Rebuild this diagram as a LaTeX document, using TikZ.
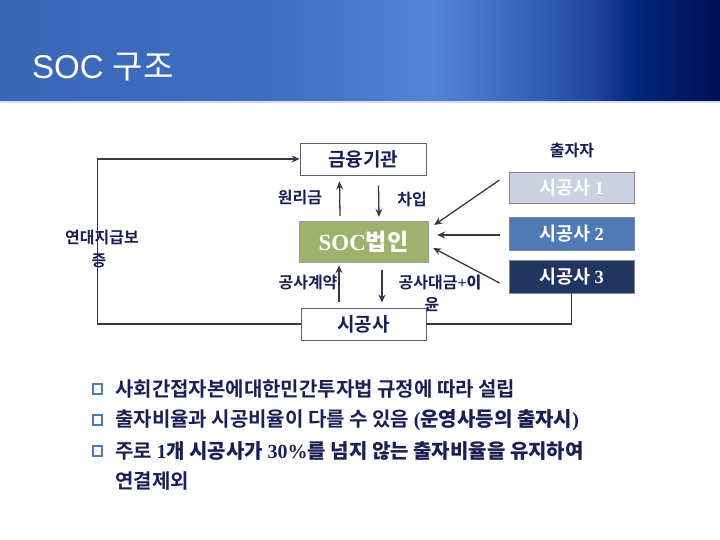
\documentclass[tikz,border=0pt]{standalone}
\usepackage{fontspec}
\setmainfont{Liberation Serif}
\newfontfamily\kr{Noto Sans CJK KR}
\newfontfamily\krb{Noto Sans CJK KR Bold}
\newfontfamily\lsans{Liberation Sans}
\usetikzlibrary{arrows.meta}
\definecolor{navy}{RGB}{26,32,82}
\definecolor{linec}{RGB}{52,56,76}
\definecolor{socg}{RGB}{158,178,108}
\definecolor{cone}{RGB}{200,210,225}
\definecolor{ctwo}{RGB}{78,122,182}
\definecolor{cthree}{RGB}{32,54,96}
\definecolor{bA}{RGB}{58,102,182}
\definecolor{bB}{RGB}{64,112,194}
\definecolor{bC}{RGB}{84,132,214}
\definecolor{bD}{RGB}{50,95,182}
\definecolor{bE}{RGB}{30,66,152}
\definecolor{bF}{RGB}{2,40,124}
\definecolor{bG}{RGB}{0,14,86}
\pgfdeclarehorizontalshading{banner}{100bp}{
 color(0bp)=(bA);
 color(25bp)=(bA);
 color(45bp)=(bB);
 color(55bp)=(bC);
 color(62.5bp)=(bD);
 color(66.5bp)=(bE);
 color(69bp)=(bF);
 color(75bp)=(bG);
 color(100bp)=(bG)}
\tikzset{
  box/.style={draw=linec!80, line width=0.9pt, fill=white, text=navy, font=\krb\fontsize{19}{21}\selectfont, inner sep=0pt},
  cbox/.style={draw=linec!60, line width=0.9pt, minimum width=125pt, text=white, font=\krb\fontsize{18.5}{20}\selectfont, inner sep=0pt},
  lab/.style={text=navy, font=\krb\fontsize{16}{18}\selectfont, inner sep=0pt},
  arr/.style={draw=linec, line width=1.3pt, -{Stealth[length=8pt,width=7pt]}},
  ln/.style={draw=linec, line width=1.3pt},
  btext/.style={text=navy, font=\krb\fontsize{20}{22}\selectfont, anchor=west, inner sep=0pt},
  bsq/.style={draw=ctwo, line width=1.8pt, minimum size=9.5pt, inner sep=0pt}
}
\begin{document}
\begin{tikzpicture}[x=1pt,y=-1pt]
\useasboundingbox (0,0) rectangle (720,540);
\fill[white] (0,0) rectangle (720,540);
\shade[shading=banner] (0,0) rectangle (720,101);
\fill[white!75!ctwo] (0,101) rectangle (720,103);
\node[anchor=west, text=white, inner sep=0pt] (title) at (32,67) {\lsans\fontsize{33}{36}\selectfont SOC \kr 구조};

% boxes
\node[box, minimum width=126pt, minimum height=32pt] (fin) at (363,159) {금융기관};
\node[draw=linec!50, fill=socg, minimum width=129pt, minimum height=41pt, inner sep=0pt, text=white] (soc) at (363.5,241.5) {\fontsize{23}{25}\selectfont\bfseries SOC\krb 법인};
\node[box, minimum width=125pt, minimum height=32pt] (con) at (363.5,324) {시공사};

\node[cbox, fill=cone, minimum height=31pt] (c1) at (571.5,187.5) {시공사 \rmfamily\bfseries 1};
\node[cbox, fill=ctwo, minimum height=33pt] (c2) at (571.5,233.5) {시공사 \rmfamily\bfseries 2};
\node[cbox, fill=cthree, minimum height=33pt] (c3) at (571.5,276.5) {시공사 \rmfamily\bfseries 3};

\node[lab] (inv) at (572,151) {출자자};
\node[lab] (l1) at (300,198) {원리금};
\node[lab] (l2) at (412,200) {차입};
\node[lab] (l3) at (308,283) {공사계약};
\node[lab] (l4) at (440,283) {공사대금\rmfamily\bfseries +\krb 이};
\node[lab] (l5) at (432,305) {윤};
\node[lab] (g1) at (102,238) {연대지급보};
\node[lab] (g2) at (99,261) {증};

% arrows
\draw[arr] ([xshift=-23.5pt,yshift=5pt]soc.north) -- ([xshift=-23.5pt,yshift=-6pt]fin.south);
\draw[arr] ([xshift=15.5pt,yshift=-10pt]fin.south) -- ([xshift=15.5pt,yshift=4pt]soc.north);
\draw[arr] ([xshift=-24.5pt,yshift=6pt]con.north) -- ([xshift=-24.5pt,yshift=-3pt]soc.south);
\draw[arr] ([xshift=18.5pt,yshift=-8pt]soc.south) -- ([xshift=18.5pt,yshift=5pt]con.north);

\draw[arr] ([xshift=-9pt,yshift=7.5pt]c1.west) -- ([xshift=6pt,yshift=16.5pt]soc.east);
\draw[arr] ([xshift=-9pt,yshift=-1.5pt]c2.west) -- ([xshift=9pt,yshift=6.5pt]soc.east);
\draw[arr] ([xshift=-9pt,yshift=-6.5pt]c3.west) -- ([xshift=5pt,yshift=-6.5pt]soc.east);

\draw[arr] (con.west) -- ++(-203,0) |- (fin.west);
\draw[ln] (con.east) -| (c3.south);

% bullets
\node[bsq] (b1) at (97.5,389) {};
\node[bsq] (b2) at (97.5,420) {};
\node[bsq] (b3) at (97.5,451) {};
\node[btext] (t1) at (115,389) {사회간접자본에대한민간투자법 규정에 따라 설립};
\node[btext] (t2) at (115,420) {출자비율과 시공비율이 다를 수 있음 \rmfamily\bfseries(\krb 운영사등의 출자시\rmfamily\bfseries)};
\node[btext] (t3) at (115,451) {주로 \rmfamily\bfseries 1\krb 개 시공사가 \rmfamily\bfseries 30\%\krb 를 넘지 않는 출자비율을 유지하여};
\node[btext] (t4) at (115,481) {연결제외};
\end{tikzpicture}
\end{document}
